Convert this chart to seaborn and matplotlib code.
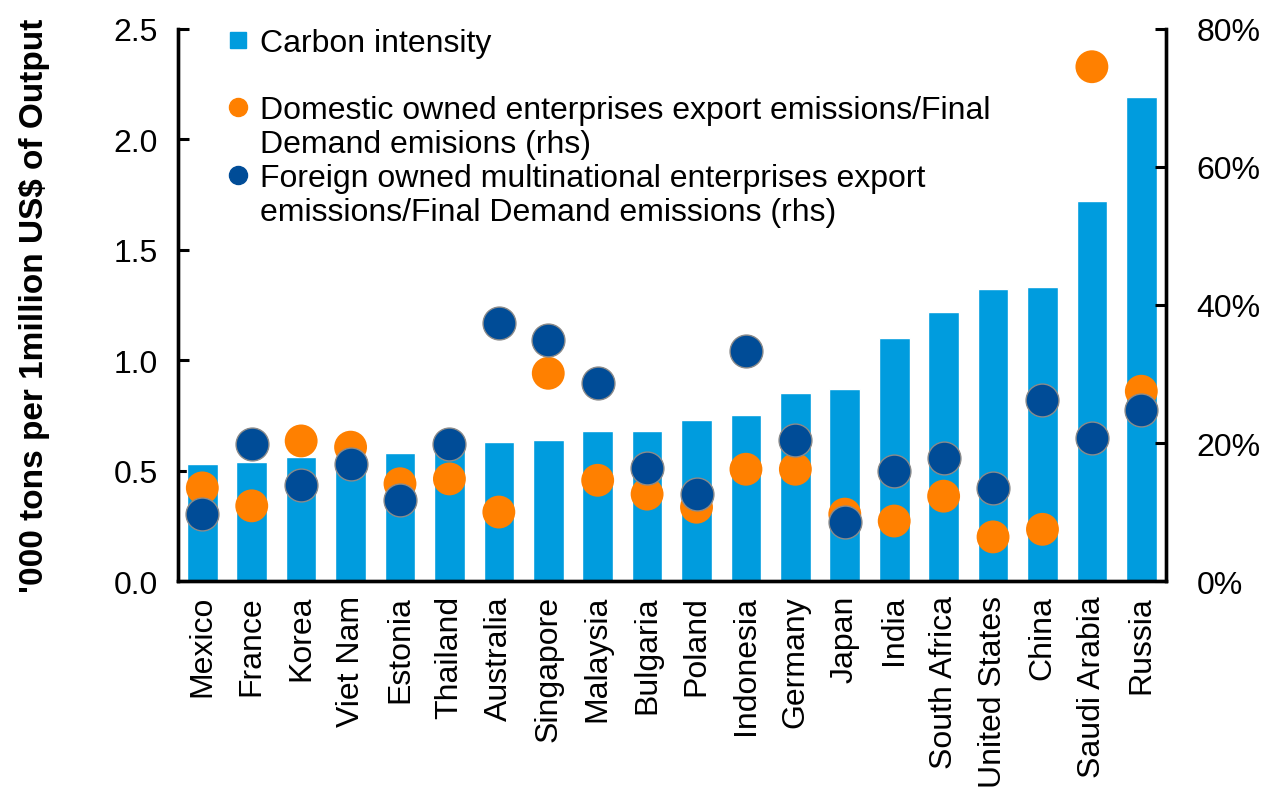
import numpy as np
import pandas as pd
import seaborn as sns
import matplotlib.pyplot as plt
from matplotlib.lines import Line2D
from matplotlib.ticker import FuncFormatter

# Values
countries = ["Mexico", "France", "Korea", "Viet Nam", "Estonia", "Thailand", "Australia",
             "Singapore", "Malaysia", "Bulgaria", "Poland", "Indonesia", "Germany", "Japan",
             "India", "South Africa", "United States", "China", "Saudi Arabia", "Russia"]
carbon_intensity = [0.53, 0.54, 0.56, 0.56, 0.58, 0.62, 0.63, 0.64, 0.68, 0.68,
                    0.73, 0.75, 0.85, 0.87, 1.10, 1.22, 1.32, 1.33, 1.72, 2.19]
domestic_share = [13.5, 10.9, 20.3, 19.4, 14.1, 14.8, 10.0, 30.1, 14.6, 12.6,
                  10.7, 16.2, 16.2, 9.7, 8.7, 12.3, 6.4, 7.5, 74.5, 27.5]
foreign_share = [9.7, 19.9, 13.9, 17.0, 11.7, 19.9, 37.4, 34.9, 28.7, 16.4,
                 12.6, 33.3, 20.4, 8.5, 15.9, 17.8, 13.5, 26.2, 20.7, 24.8]

bar_color = "#009CDE"
orange = "#FF8000"
navy = "#004C97"

df = pd.DataFrame({"country": countries, "carbon": carbon_intensity,
                   "domestic": domestic_share, "foreign": foreign_share})
df["pos"] = np.arange(len(df))

sns.set_theme(style="white")
plt.rcParams["font.family"] = ["Liberation Sans", "DejaVu Sans"]
plt.rcParams["text.color"] = "black"
plt.rcParams["xtick.color"] = "black"
plt.rcParams["ytick.color"] = "black"
plt.rcParams["axes.labelcolor"] = "black"

fig = plt.figure(figsize=(12.87, 8.04), dpi=100)
ax = fig.add_axes([0.138, 0.276, 0.768, 0.687])

sns.barplot(data=df, x="country", y="carbon", color=bar_color, width=0.62,
            saturation=1, ax=ax)
ax.set_xlim(-0.5, len(df) - 0.5)
ax.set_ylim(0, 2.5)
ax.set_yticks([0, 0.5, 1.0, 1.5, 2.0, 2.5])
ax.yaxis.set_major_formatter(FuncFormatter(lambda v, p: f"{v:.1f}"))
ax.set_xlabel("")
ax.set_ylabel("'000 tons per 1million US$ of Output", fontsize=24, fontweight="bold",
              labelpad=46)
ax.tick_params(axis="x", labelrotation=90, labelsize=23, length=0, pad=10)
ax.tick_params(axis="y", labelsize=23, direction="in", length=8, width=2.2, pad=14,
               left=True)

ax2 = ax.twinx()
sns.scatterplot(data=df, x="pos", y="domestic", color=orange, s=560, edgecolor="none",
                ax=ax2, zorder=3)
sns.scatterplot(data=df, x="pos", y="foreign", color=navy, s=560, edgecolor="#8a8a8a",
                linewidth=1, ax=ax2, zorder=4)
ax2.set_ylim(0, 80)
ax2.set_yticks([0, 20, 40, 60, 80])
ax2.yaxis.set_major_formatter(FuncFormatter(lambda v, p: f"{v:.0f}%"))
ax2.set_ylabel("")
ax2.set_xlabel("")
ax2.tick_params(axis="y", labelsize=23, direction="in", length=8, width=2.2, pad=22,
                right=True)

for a in (ax, ax2):
    for side in ("left", "right", "bottom"):
        a.spines[side].set_color("black")
        a.spines[side].set_linewidth(2.4)
    a.spines["top"].set_visible(False)

# markers sit on the first line of each label, so every line is its own row
blank = Line2D([], [], linestyle="none")
handles = [
    Line2D([], [], marker="s", linestyle="none", color=bar_color, markersize=12),
    blank,
    Line2D([], [], marker="o", linestyle="none", color=orange, markersize=13),
    blank,
    Line2D([], [], marker="o", linestyle="none", color=navy, markersize=13),
    blank,
]
labels = [
    "Carbon intensity",
    " ",
    "Domestic owned enterprises export emissions/Final",
    "Demand emisions (rhs)",
    "Foreign owned multinational enterprises export",
    "emissions/Final Demand emissions (rhs)",
]
ax2.legend(handles, labels, loc="upper left", bbox_to_anchor=(0.035, 1.025), frameon=False,
           fontsize=23, handlelength=0.8, handletextpad=0.3, labelspacing=0.12,
           borderaxespad=0)

fig.savefig("out.png", dpi=100)
